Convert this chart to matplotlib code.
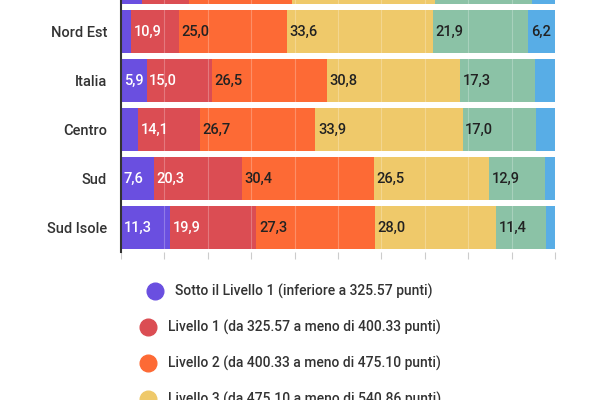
import matplotlib
matplotlib.use("Agg")
import matplotlib.pyplot as plt
from matplotlib.lines import Line2D
import numpy as np

plt.rcParams['font.family'] = ['Roboto', 'DejaVu Sans']

regions = ["Nord Ovest", "Nord Est", "Italia", "Centro", "Sud", "Sud Isole"]
sotto = [4.9, 2.4, 5.9, 4.0, 7.6, 11.3]
liv1 = [10.7, 10.9, 15.0, 14.1, 20.3, 19.9]
liv2 = [23.7, 25.0, 26.5, 26.7, 30.4, 27.3]
liv3 = [33.0, 33.6, 30.8, 33.9, 26.5, 28.0]
liv4 = [22.5, 21.9, 17.3, 17.0, 12.9, 11.4]
liv5 = [5.3, 6.2, 4.5, 4.3, 2.3, 2.1]
series = [sotto, liv1, liv2, liv3, liv4, liv5]
colors = ["#6a4fe0", "#db4d53", "#fd6a35", "#efc96a", "#8bc2a6", "#58ade6"]
txtcol = ["white", "white", "#222222", "#222222", "#222222", "#222222"]
legend_labels = [
    "Sotto il Livello 1 (inferiore a 325.57 punti)",
    "Livello 1 (da 325.57 a meno di 400.33 punti)",
    "Livello 2 (da 400.33 a meno di 475.10 punti)",
    "Livello 3 (da 475.10 a meno di 540.86 punti)",
]

fig = plt.figure(figsize=(6, 4), dpi=100)
ax = fig.add_axes([121/600, 148/400, 434/600, 252/400])
n = len(regions)
ypos = np.arange(n)[::-1]
left = np.zeros(n)
for s, c, tc in zip(series, colors, txtcol):
    vals = np.array(s)
    ax.barh(ypos, vals, left=left, height=0.88, color=c, zorder=2)
    for y, l, v in zip(ypos, left, vals):
        if v >= 5 and y < n - 1:
            ax.text(l + 0.6, y, f"{v:.1f}".replace(".", ","), va="center", ha="left",
                    fontsize=10.5, fontweight="medium", color=tc, zorder=4)
    left += vals
for x in range(10, 100, 10):
    ax.axvline(x, color="white", alpha=0.25, lw=0.8, zorder=3)
ax.set_xlim(0, 100)
ax.set_ylim(-0.5, 4.65)
ax.set_yticks(ypos[1:])
ax.set_yticklabels(regions[1:], fontsize=10.5, fontweight="medium", color="#333333")
ax.set_xticks(range(0, 101, 10))
ax.set_xticklabels([])
ax.tick_params(axis="x", length=5, color="#cccccc")
ax.tick_params(axis="y", length=0, pad=10)
for sp in ["top", "right", "bottom"]:
    ax.spines[sp].set_visible(False)
ax.spines["left"].set_color("#333333")
ax.spines["left"].set_linewidth(1.5)

ys = [291, 327, 363, 399]
xs = [155, 148, 148, 148]
for lab, c, y, x in zip(legend_labels, colors, ys, xs):
    fig.add_artist(Line2D([x/600], [1 - y/400], marker="o", markersize=12,
                          color=c, transform=fig.transFigure, ls=""))
    fig.text((x + 20)/600, 1 - y/400, lab, fontsize=10, fontweight="medium",
             color="#333333", va="center")

fig.savefig("out.png", dpi=100)
